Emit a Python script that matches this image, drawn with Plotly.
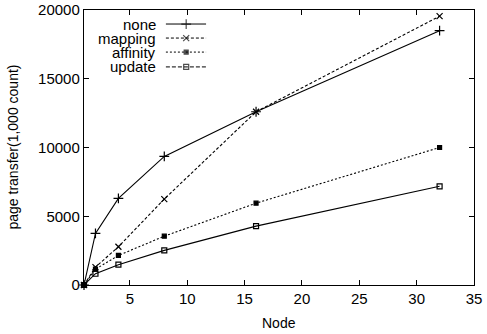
import plotly.graph_objects as go

nodes = [1, 2, 4, 8, 16, 32]
none_vals = [0, 3750, 6300, 9350, 12600, 18500]
mapping_vals = [0, 1300, 2780, 6250, 12600, 19550]
affinity_vals = [0, 1150, 2150, 3550, 5950, 10000]
update_vals = [0, 820, 1480, 2520, 4280, 7180]
y_ticks = [0, 5000, 10000, 15000, 20000]
x_ticks = [5, 10, 15, 20, 25, 30, 35]

# name, values, plot dash, legend dash, symbol, size
series = [
    ("none", none_vals, "solid", "solid", "cross-thin", 7),
    ("mapping", mapping_vals, "3px,2px", "3px,2px", "x-thin", 6),
    ("affinity", affinity_vals, "2px,2px", "2px,2px", "square", 4),
    ("update", update_vals, "solid", "4px,2px", "square-open", 5),
]

FONT = "Liberation Sans, Arial, sans-serif"
W, H = 487, 334
ML, MR, MT, MB = 84, 13, 10, 49

fig = go.Figure()
for name, vals, dash, ldash, sym, sz in series:
    fig.add_trace(go.Scatter(
        x=nodes, y=vals, mode="lines+markers", name=name,
        line=dict(color="black", width=1.1, dash=dash),
        marker=dict(symbol=sym, size=sz, color="black",
                    line=dict(color="black", width=1.2)),
        showlegend=False, cliponaxis=False,
    ))

# manual gnuplot-style legend (text left, sample right)
leg_y = [0.949, 0.898, 0.847, 0.793]
for (name, vals, dash, ldash, sym, sz), yy in zip(series, leg_y):
    fig.add_trace(go.Scatter(
        x=[0.21, 0.262, 0.313], y=[yy, yy, yy], xaxis="x2", yaxis="y2",
        mode="lines+markers",
        line=dict(color="black", width=1.0, dash=ldash),
        marker=dict(symbol=sym, size=[0, sz, 0], color="black",
                    line=dict(color="black", width=1.2)),
        showlegend=False, hoverinfo="skip",
    ))
    fig.add_annotation(x=0.188, y=yy, xref="x2", yref="y2", text=name,
                       showarrow=False, xanchor="right", yanchor="middle",
                       borderpad=0,
                       font=dict(family=FONT, size=15, color="black"))

# axis titles as annotations (paper coords) so margins stay fixed
ph = H - MT - MB
pw = W - ML - MR
fig.add_annotation(x=0.5, y=-(323 - (MT + ph)) / ph,
                   xref="paper", yref="paper", text="Node", showarrow=False,
                   xanchor="center", yanchor="middle",
                   font=dict(family=FONT, size=14, color="black"))
fig.add_annotation(x=-(ML - 12) / pw, y=0.5, xref="paper", yref="paper",
                   text="page transfer(1,000 count)", showarrow=False, textangle=-90,
                   xanchor="center", yanchor="middle",
                   font=dict(family=FONT, size=14, color="black"))

axis_common = dict(
    showline=True, linecolor="black", linewidth=1.4, mirror="allticks",
    ticks="inside", ticklen=5, tickcolor="black", tickwidth=1.3,
    showgrid=False, zeroline=False, automargin=False,
    tickfont=dict(family=FONT, size=15, color="black"),
)
fig.update_layout(
    width=W, height=H,
    margin=dict(l=ML, r=MR, t=MT, b=MB, autoexpand=False),
    plot_bgcolor="white", paper_bgcolor="white",
    xaxis=dict(range=[1, 35], tickvals=x_ticks, ticktext=[str(v) for v in x_ticks],
               **axis_common),
    yaxis=dict(range=[0, 20000], tickvals=y_ticks, ticktext=[str(v) for v in y_ticks],
               **axis_common),
    xaxis2=dict(overlaying="x", range=[0, 1], visible=False),
    yaxis2=dict(overlaying="y", range=[0, 1], visible=False),
)
fig.write_html("out.html")
